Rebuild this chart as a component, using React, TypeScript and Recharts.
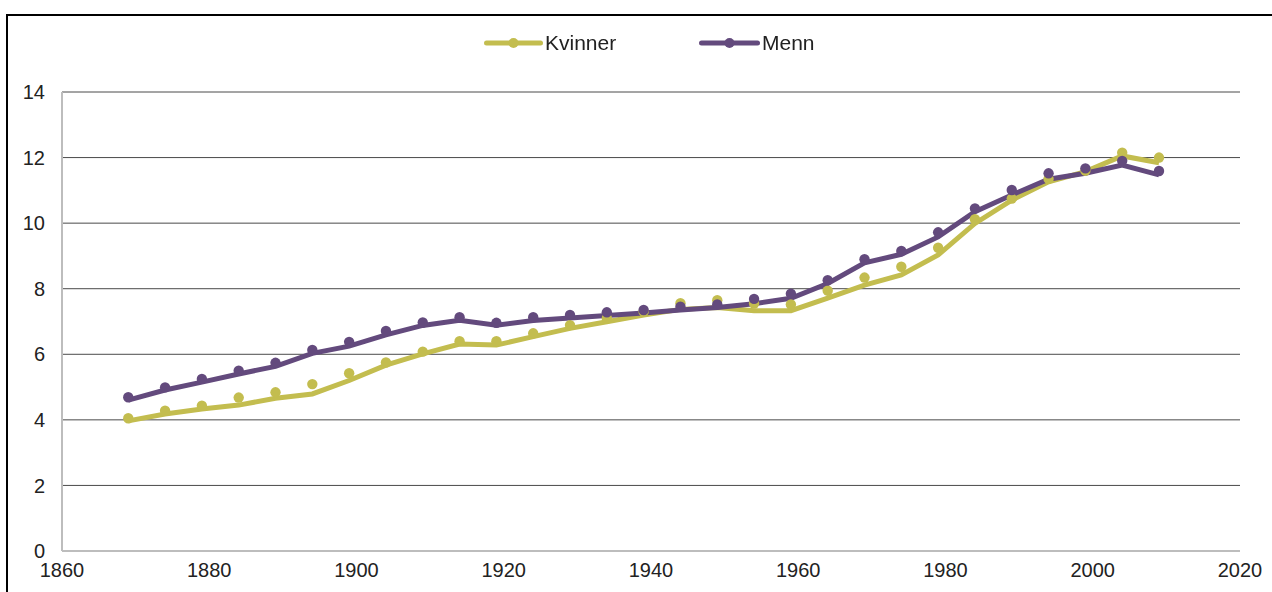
import { LineChart, Line, XAxis, YAxis, CartesianGrid } from 'recharts';

// survey years (5-year steps)
const years = [
    1869, 1874, 1879, 1884, 1889, 1894, 1899, 1904, 1909, 1914, 1919, 1924, 1929, 1934, 1939,
    1944, 1949, 1954, 1959, 1964, 1969, 1974, 1979, 1984, 1989, 1994, 1999, 2004, 2009,
];

// observed values (markers)
const kvinnerPoints = [
    4.05, 4.28, 4.43, 4.68, 4.84, 5.09, 5.42, 5.75, 6.08, 6.4, 6.4, 6.64, 6.89, 7.1, 7.3,
    7.56, 7.65, 7.55, 7.52, 7.94, 8.34, 8.67, 9.25, 10.12, 10.75, 11.35, 11.6, 12.15, 12.0,
];
const mennPoints = [
    4.69, 4.99, 5.25, 5.5, 5.74, 6.13, 6.38, 6.71, 6.97, 7.13, 6.96, 7.13, 7.2, 7.28, 7.35,
    7.45, 7.52, 7.69, 7.85, 8.26, 8.9, 9.15, 9.72, 10.45, 11.01, 11.52, 11.67, 11.9, 11.59,
];

// smoothed series (lines)
const kvinnerLine = [
    3.97, 4.18, 4.33, 4.45, 4.66, 4.79, 5.2, 5.67, 6.01, 6.31, 6.28, 6.54, 6.79, 6.99, 7.2,
    7.37, 7.43, 7.33, 7.33, 7.71, 8.11, 8.42, 9.03, 9.99, 10.7, 11.26, 11.57, 12.05, 11.84,
];
const mennLine = [
    4.6, 4.91, 5.15, 5.4, 5.63, 6.03, 6.25, 6.59, 6.88, 7.04, 6.89, 7.03, 7.11, 7.18, 7.26,
    7.35, 7.43, 7.54, 7.71, 8.16, 8.79, 9.05, 9.58, 10.35, 10.86, 11.34, 11.52, 11.77, 11.47,
];

const xTicks = [1860, 1880, 1900, 1920, 1940, 1960, 1980, 2000, 2020];
const yTicks = [0, 2, 4, 6, 8, 10, 12, 14];

const KVINNER = '#c3bd4f';
const MENN = '#634a7d';
const FONT = '"Liberation Sans", Arial, sans-serif';

const data = years.map((year, i) => ({
    year,
    kvinnerLine: kvinnerLine[i],
    kvinner: kvinnerPoints[i],
    mennLine: mennLine[i],
    menn: mennPoints[i],
}));

function LegendItem({ label, color, left, width }: { label: string; color: string; left: number; width: number }) {
    return (
        <div style={{ position: 'absolute', left, top: 31, display: 'flex', alignItems: 'center' }}>
            <svg width={width} height={12}>
                <line x1={2.5} y1={6} x2={width - 2.5} y2={6} stroke={color} strokeWidth={5} strokeLinecap="round" />
                <circle cx={width / 2} cy={6} r={5} fill={color} />
            </svg>
            <span style={{ marginLeft: 2, fontFamily: FONT, fontSize: 21, color: '#222', lineHeight: '24px' }}>
                {label}
            </span>
        </div>
    );
}

export default function App() {
    return (
        <div>
            <div
                style={{
                    position: 'fixed',
                    left: 6,
                    top: 14,
                    width: 1300,
                    height: 640,
                    border: '2px solid #000',
                    background: '#fff',
                }}
            />
            <div style={{ position: 'fixed', left: 0, top: 0 }}>
                <LineChart width={1272} height={592} data={data} margin={{ top: 92, right: 32, bottom: 0, left: 0 }}>
                    <CartesianGrid vertical={false} stroke="#4a4a4a" strokeWidth={1} />
                    <XAxis
                        dataKey="year"
                        type="number"
                        domain={[1860, 2020]}
                        ticks={xTicks}
                        height={41}
                        tickLine={false}
                        axisLine={{ stroke: '#bdbdbd', strokeWidth: 2 }}
                        tickMargin={6}
                        tick={{ fill: '#222', fontSize: 20, fontFamily: FONT }}
                    />
                    <YAxis
                        domain={[0, 14]}
                        ticks={yTicks}
                        width={62}
                        tickLine={false}
                        axisLine={{ stroke: '#bdbdbd', strokeWidth: 2 }}
                        tickMargin={11}
                        tick={{ fill: '#222', fontSize: 20, fontFamily: FONT }}
                    />
                    <Line
                        dataKey="kvinnerLine"
                        stroke={KVINNER}
                        strokeWidth={5}
                        dot={false}
                        isAnimationActive={false}
                    />
                    <Line
                        dataKey="kvinner"
                        stroke="none"
                        dot={{ r: 5.2, fill: KVINNER, stroke: 'none' }}
                        isAnimationActive={false}
                    />
                    <Line
                        dataKey="mennLine"
                        stroke={MENN}
                        strokeWidth={5}
                        dot={false}
                        isAnimationActive={false}
                    />
                    <Line
                        dataKey="menn"
                        stroke="none"
                        dot={{ r: 5.2, fill: MENN, stroke: 'none' }}
                        isAnimationActive={false}
                    />
                </LineChart>
            </div>
            <LegendItem label="Kvinner" color={KVINNER} left={484} width={59} />
            <LegendItem label="Menn" color={MENN} left={699} width={61} />
        </div>
    );
}
